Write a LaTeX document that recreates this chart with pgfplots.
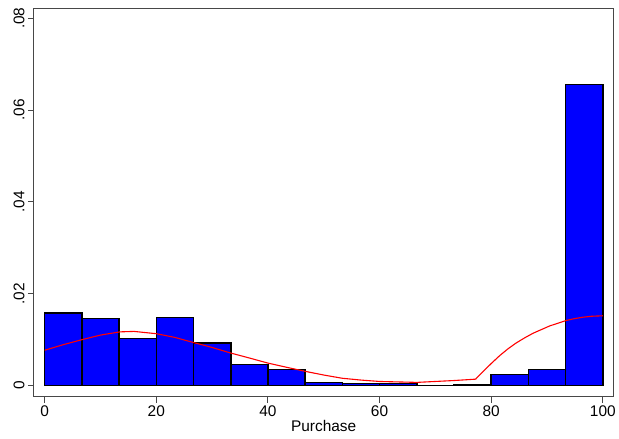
\documentclass[border=0pt]{standalone}
\usepackage{fontspec}
\setmainfont{Liberation Sans}
\usepackage{pgfplots}
\pgfplotsset{compat=1.18}
\begin{document}
\begin{tikzpicture}
\begin{axis}[
  scale only axis,
  width=580bp, height=388bp,
  xmin=-1.92, xmax=101.9,
  ymin=-0.0024, ymax=0.082,
  axis line style={line width=1bp, color=black!72},
  tick align=outside,
  major tick length=6bp,
  tick style={line width=1bp, color=black!72},
  xtick pos=bottom, ytick pos=left,
  xtick={0,20,40,60,80,100},
  xticklabels={0,20,40,60,80,100},
  ytick={0,0.02,0.04,0.06,0.08},
  yticklabels={0,.02,.04,.06,.08},
  scaled y ticks=false,
  tick label style={font=\fontsize{15.5}{18}\selectfont},
  yticklabel style={rotate=90, anchor=south},
  xlabel={Purchase},
  xlabel style={font=\fontsize{15.5}{18}\selectfont, yshift=4bp},
  clip=false,
]
\addplot[ybar interval, fill={rgb,255:red,0;green,0;blue,255}, draw=black, line width=1.6bp] coordinates {
  (0,0.0158) (6.667,0.01458) (13.333,0.01023) (20,0.0148) (26.667,0.00929)
  (33.333,0.00457) (40,0.00348) (46.667,0.0007) (53.333,0.00045) (60,0.00045)
  (66.667,0) (73.333,0.00025) (80,0.0024) (86.667,0.0035) (93.333,0.0656) (100,0.0656)
};
\addplot[color={rgb,255:red,255;green,0;blue,0}, line width=1.1bp, line join=round] coordinates {
  (0,0.0077) (3.3,0.0089) (6.67,0.0100) (10,0.0110) (13.5,0.0117) (16,0.0118)
  (20,0.0113) (23.3,0.0105) (26.6,0.0094) (30,0.0083) (33.3,0.0071) (36.7,0.0060)
  (40,0.0049) (43.3,0.0040) (46.7,0.0031) (50,0.0023) (53.3,0.0016) (56.7,0.0012)
  (60,0.0009) (63.3,0.0008) (66.7,0.0007) (70,0.0009) (73.3,0.0011) (77.2,0.0014)
  (78.5,0.0030) (80,0.0048) (81.5,0.0065) (83,0.0080) (84.5,0.0093) (86,0.0104)
  (87.5,0.0114) (89,0.0122) (90.5,0.0130) (92,0.0136) (93.5,0.0142) (95,0.0146)
  (96.5,0.0149) (98,0.0151) (100,0.0152)
};
\end{axis}
\path ([shift={(-34bp,-42bp)}]current axis.south west) rectangle ([shift={(5bp,9bp)}]current axis.north east);
\end{tikzpicture}
\end{document}
